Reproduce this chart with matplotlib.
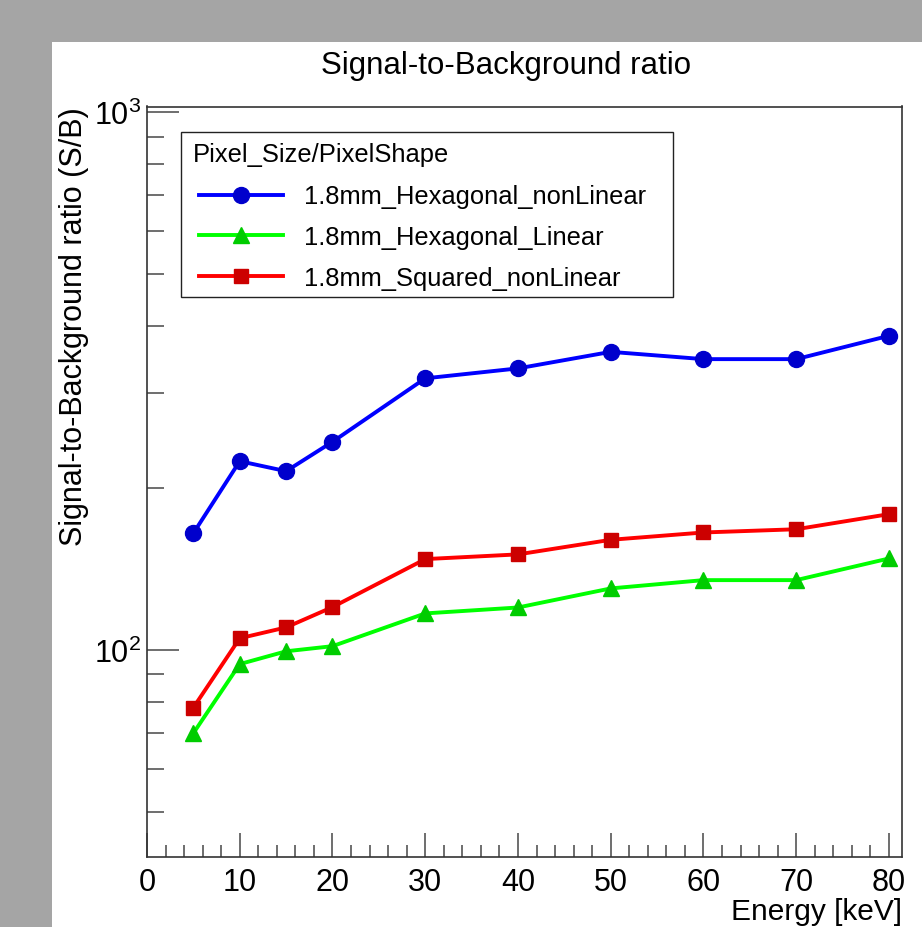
import matplotlib
matplotlib.use('Agg')
import matplotlib.pyplot as plt
from matplotlib.patches import Rectangle
from matplotlib.ticker import MultipleLocator, LogLocator, NullFormatter

plt.rcParams['font.family'] = ['Liberation Sans', 'DejaVu Sans']
plt.rcParams['mathtext.default'] = 'regular'

energy = [5, 10, 15, 20, 30, 40, 50, 60, 70, 80]
hex_nonlinear = [164.8, 224.3, 214.9, 243.7, 319.8, 333.7, 358.2, 347.2, 347.2, 383.7]
hex_linear = [70.0, 94.1, 99.4, 101.6, 116.9, 119.9, 130.1, 134.8, 134.8, 147.9]
sq_nonlinear = [78.1, 105.1, 110.1, 120.1, 147.5, 150.5, 160.2, 165.3, 167.6, 178.8]

labels = ['1.8mm_Hexagonal_nonLinear', '1.8mm_Hexagonal_Linear', '1.8mm_Squared_nonLinear']

W, H = 922, 928
fig = plt.figure(figsize=(W / 100, H / 100), dpi=100)
fig.patch.set_facecolor('#a5a5a5')
# white pad (ROOT canvas)
fig.patches.append(Rectangle((52 / W, 0), 1, 1 - 43 / H, transform=fig.transFigure,
                             facecolor='white', edgecolor='none', zorder=-5))

ax = fig.add_axes([147 / W, 1 - 858 / H, (901.5 - 147) / W, (858 - 107.5) / H])
ax.set_zorder(2)

ax.plot(energy, hex_nonlinear, color='#0000ff', lw=2.8, marker='o', ms=11.5,
        mfc='#0000cc', mec='#0000cc', label=labels[0])
ax.plot(energy, hex_linear, color='#00ff00', lw=2.8, marker='^', ms=11,
        mfc='#00cc00', mec='#00cc00', label=labels[1])
ax.plot(energy, sq_nonlinear, color='#ff0000', lw=2.8, marker='s', ms=10.5,
        mfc='#cc0000', mec='#cc0000', label=labels[2])

ax.set_yscale('log')
ax.set_xlim(0, 81.35)
ax.set_ylim(41.2, 1024)

ax.xaxis.set_major_locator(MultipleLocator(10))
ax.xaxis.set_minor_locator(MultipleLocator(2))
ax.yaxis.set_major_locator(LogLocator(base=10))
ax.yaxis.set_minor_locator(LogLocator(base=10, subs=range(2, 10)))
ax.yaxis.set_minor_formatter(NullFormatter())

ax.tick_params(which='both', direction='in', top=False, right=False, color='#555555',
               labelsize=22, width=1.2)
ax.tick_params(axis='x', which='major', length=17, pad=7)
ax.tick_params(axis='x', which='minor', length=9)
ax.tick_params(axis='y', which='major', length=23, pad=4)
ax.tick_params(axis='y', which='minor', length=12)
for sp in ax.spines.values():
    sp.set_color('#333333')
    sp.set_linewidth(1.2)

ax.set_xlabel('Energy [keV]', fontsize=21.5, loc='right', labelpad=0)
ax.set_ylabel('Signal-to-Background ratio (S/B)', fontsize=22, loc='top', labelpad=4)

fig.text(506 / W, 1 - 66 / H, 'Signal-to-Background ratio', fontsize=22.5,
         ha='center', va='center')

# legend box, header and entries
ax.add_patch(Rectangle((181 / W, 1 - 298 / H), (673 - 181) / W, (298 - 133) / H,
                       transform=fig.transFigure, facecolor='white',
                       edgecolor='#222222', lw=1.0, zorder=3, clip_on=False))
ax.text(193 / W, 1 - 155 / H, 'Pixel_Size/PixelShape', fontsize=18.4,
        transform=fig.transFigure, ha='left', va='center', zorder=4)
leg = ax.legend(loc='upper left', bbox_to_anchor=(199 / W, 1 - 185.5 / H),
                bbox_transform=fig.transFigure,
                fontsize=18.4, frameon=False, handlelength=3.3, handletextpad=0.8,
                labelspacing=0.66, borderpad=0, borderaxespad=0)
leg.set_zorder(5)

fig.savefig('out.png', dpi=100, facecolor=fig.get_facecolor())
